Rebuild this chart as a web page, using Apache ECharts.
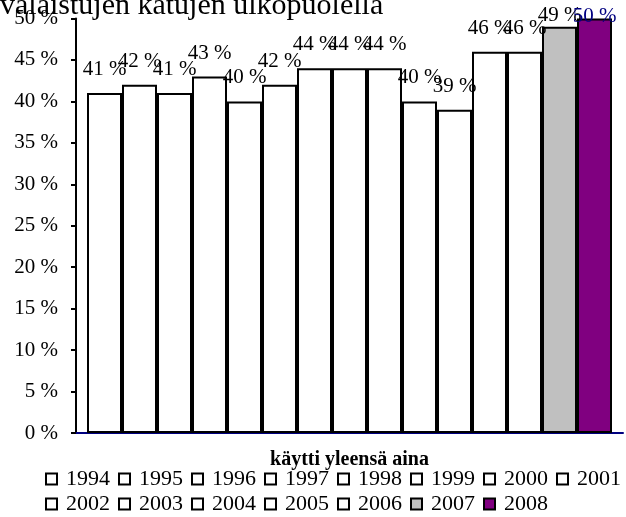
<!DOCTYPE html>
<html>
<head>
<meta charset="utf-8">
<script src="https://cdn.jsdelivr.net/npm/echarts@6/dist/echarts.min.js"></script>
<style>
  html, body { margin: 0; padding: 0; background: #fff; }
  #chart { width: 626px; height: 517px; }
</style>
</head>
<body>
<div id="chart"></div>
<script>
const titleText = 'valaistujen katujen ulkopuolella';
const category = ['käytti yleensä aina'];
const years = ['1994', '1995', '1996', '1997', '1998', '1999', '2000', '2001',
  '2002', '2003', '2004', '2005', '2006', '2007', '2008'];
const shares = [41, 42, 41, 43, 40, 42, 44, 44, 44, 40, 39, 46, 46, 49, 50];

// only the last two years are filled
const fillColors = { '2007': '#c0c0c0', '2008': '#800080' };
const serif = '"Liberation Serif", "Times New Roman", serif';

const chart = echarts.init(document.getElementById('chart'));

const series = years.map((year, i) => ({
  name: year,
  type: 'bar',
  barWidth: 35,
  barGap: '0%',
  data: [shares[i]],
  itemStyle: {
    color: fillColors[year] || '#fff',
    borderColor: '#000',
    borderWidth: 2,
  },
  label: {
    show: true,
    position: 'top',
    distance: 13,
    formatter: '{c} %',
    color: year === '2008' ? '#000080' : '#000',
    fontFamily: serif,
    fontSize: 21,
  },
  emphasis: { disabled: true },
}));
// the top labels sit lower, squeezed under the chart top
series[13].label.distance = 1;
series[14].label.distance = -8;

function legendRow(names, top) {
  return {
    data: names,
    left: 45,
    top: top,
    padding: 0,
    icon: 'rect',
    itemWidth: 11,
    itemHeight: 11,
    itemGap: 8,
    selectedMode: false,
    textStyle: {
      fontFamily: serif,
      fontSize: 22,
      color: '#000',
      padding: [0, 0, 0, 4],
    },
  };
}

const option = {
  animation: false,
  title: {
    text: titleText,
    left: 0,
    top: -9,
    padding: 0,
    textStyle: { fontFamily: serif, fontSize: 30, fontWeight: 'normal', color: '#000' },
  },
  grid: { left: 76, right: 3, top: 18.5, bottom: 84, containLabel: false },
  legend: [
    legendRow(years.slice(0, 8), 468),
    legendRow(years.slice(8), 493),
  ],
  xAxis: {
    type: 'category',
    data: category,
    axisLine: { lineStyle: { color: '#000080', width: 2 } },
    axisTick: { show: false },
    axisLabel: {
      margin: 17,
      fontFamily: serif,
      fontSize: 20,
      fontWeight: 'bold',
      color: '#000',
    },
  },
  yAxis: {
    type: 'value',
    min: 0,
    max: 50,
    interval: 5,
    axisLine: { show: true, lineStyle: { color: '#000', width: 2 } },
    axisTick: { show: true, length: 5, lineStyle: { color: '#000', width: 2 } },
    splitLine: { show: false },
    axisLabel: {
      margin: 18,
      formatter: '{value} %',
      fontFamily: serif,
      fontSize: 21,
      color: '#000',
    },
  },
  series: series,
};

chart.setOption(option);
</script>
</body>
</html>
